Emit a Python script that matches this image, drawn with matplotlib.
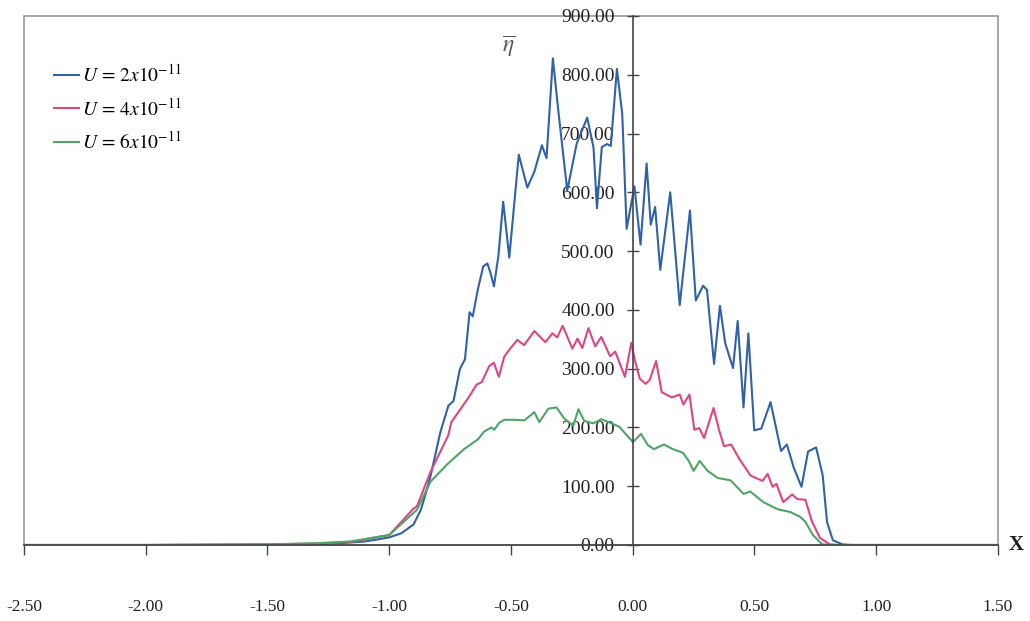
import numpy as np
import matplotlib
matplotlib.use("Agg")
import matplotlib.pyplot as plt
from matplotlib.patches import Rectangle

plt.rcParams['font.family'] = ['Liberation Serif', 'DejaVu Serif']
plt.rcParams['mathtext.fontset'] = 'stix'

# U = 2x10^-11
blue_x = [-2.50, -2.00, -1.50, -1.30, -1.20, -1.10, -1.04, -1.00, -0.95, -0.90, -0.87, -0.85,
          -0.83, -0.79, -0.757, -0.736, -0.710, -0.689, -0.670, -0.657, -0.636, -0.614, -0.597,
          -0.585, -0.570, -0.552, -0.532, -0.507, -0.468, -0.433, -0.404, -0.373, -0.354, -0.328,
          -0.306, -0.269, -0.230, -0.187, -0.161, -0.147, -0.127, -0.106, -0.090, -0.065, -0.043,
          -0.025, 0.007, 0.032, 0.057, 0.074, 0.092, 0.113, 0.154, 0.193, 0.235, 0.259, 0.289,
          0.305, 0.334, 0.358, 0.380, 0.412, 0.431, 0.455, 0.475, 0.499, 0.528, 0.566, 0.609,
          0.633, 0.661, 0.693, 0.720, 0.753, 0.780, 0.798, 0.822, 0.862, 0.90, 1.50]
blue_y = [0, 0, 0.5, 1.5, 3, 6, 10, 13, 20, 35, 60, 88,
          118, 192, 237, 245, 299, 316, 396, 389, 435, 474, 479,
          464, 440, 491, 584, 489, 664, 608, 635, 680, 658, 828,
          740, 603, 683, 727, 676, 573, 677, 682, 679, 810, 733,
          538, 610, 511, 649, 545, 575, 468, 600, 408, 569, 416, 441,
          434, 308, 407, 343, 301, 381, 234, 360, 195, 198, 243, 160,
          171, 132, 99, 159, 166, 119, 39, 8, 1, 0, 0]

# U = 4x10^-11
pink_x = [-2.50, -2.00, -1.50, -1.30, -1.16, -1.00, -0.90, -0.886, -0.83, -0.758, -0.745, -0.716,
          -0.674, -0.641, -0.620, -0.590, -0.570, -0.550, -0.528, -0.507, -0.474, -0.446, -0.404,
          -0.359, -0.330, -0.310, -0.288, -0.248, -0.227, -0.207, -0.182, -0.154, -0.129, -0.093,
          -0.072, -0.032, -0.006, 0.010, 0.029, 0.053, 0.070, 0.096, 0.119, 0.160, 0.193, 0.208,
          0.233, 0.253, 0.273, 0.293, 0.332, 0.355, 0.375, 0.404, 0.44, 0.484, 0.533, 0.554,
          0.574, 0.590, 0.618, 0.655, 0.676, 0.709, 0.736, 0.769, 0.809, 0.85, 1.50]
pink_y = [0, 0, 1, 2.5, 5, 17, 62, 66, 125, 186, 209, 226,
          251, 273, 277, 304, 310, 286, 320, 332, 349, 340, 364,
          345, 360, 353, 373, 334, 351, 335, 369, 338, 354, 321,
          329, 286, 344, 312, 283, 274, 281, 313, 260, 251, 256, 239,
          256, 196, 199, 182, 233, 195, 168, 171, 145, 118, 109, 121,
          99, 104, 73, 86, 78, 77, 40, 12, 1, 0, 0]

# U = 6x10^-11
green_x = [-2.50, -2.00, -1.50, -1.30, -1.16, -1.00, -0.886, -0.83, -0.76, -0.693, -0.635, -0.610,
           -0.581, -0.569, -0.548, -0.527, -0.486, -0.445, -0.404, -0.384, -0.346, -0.313, -0.281,
           -0.244, -0.223, -0.199, -0.162, -0.129, -0.088, -0.055, -0.027, 0.001, 0.034, 0.062,
           0.087, 0.128, 0.165, 0.206, 0.230, 0.250, 0.275, 0.308, 0.349, 0.402, 0.455, 0.483,
           0.536, 0.594, 0.647, 0.687, 0.708, 0.740, 0.768, 0.780, 0.82, 1.50]
green_y = [0, 0, 1, 3, 6, 17, 60, 108, 138, 163, 180, 193,
           200, 196, 208, 213, 213, 212, 226, 209, 232, 234, 215,
           203, 231, 211, 207, 214, 207, 201, 188, 175, 189, 170,
           163, 171, 163, 157, 143, 126, 143, 126, 114, 110, 87, 91,
           73, 61, 56, 48, 40, 17, 5, 1, 0, 0]

labels = [r'$U\,=\,2x10^{-11}$', r'$U\,=\,4x10^{-11}$', r'$U\,=\,6x10^{-11}$']
colors = ['#2f62a8', '#dc4684', '#4ea565']
x_ticks = [-2.5, -2.0, -1.5, -1.0, -0.5, 0.0, 0.5, 1.0, 1.5]
y_ticks = [0, 100, 200, 300, 400, 500, 600, 700, 800, 900]

fig = plt.figure(figsize=(10.3, 6.21), dpi=100)
ax = fig.add_axes([0.0233, 0.1224, 0.9456, 0.8519])

for xs, ys, lab, c in zip([blue_x, pink_x, green_x], [blue_y, pink_y, green_y], labels, colors):
    ax.plot(xs, ys, color=c, lw=1.5, label=lab, solid_joinstyle='round')

ax.set_xlim(-2.5, 1.5)
ax.set_ylim(0, 900)

# frame round the plot area
ax.add_patch(Rectangle((0, 0), 1, 1, transform=ax.transAxes, fill=False,
                       edgecolor='#9a9a9a', lw=1.2, clip_on=False, zorder=0))
ax.spines['top'].set_visible(False)
ax.spines['right'].set_visible(False)
ax.spines['left'].set_position(('data', 0))
ax.spines['left'].set_color('#444444')
ax.spines['bottom'].set_color('#444444')
ax.spines['left'].set_linewidth(1.2)
ax.spines['bottom'].set_linewidth(1.2)

ax.set_yticks(y_ticks)
ax.set_yticklabels([f'{v:.2f}' for v in y_ticks])
ax.set_xticks(x_ticks)
ax.set_xticklabels([f'{v:.2f}' if v != 0 else '0.00' for v in x_ticks])
ax.tick_params(axis='y', direction='inout', length=8, width=1, pad=9,
               labelsize=14, colors='#444444', labelcolor='#222222')
ax.tick_params(axis='x', direction='out', length=7, width=1, pad=32,
               labelsize=12.5, colors='#444444', labelcolor='#222222')

ax.text(-0.51, 848, r'$\overline{\eta}$', fontsize=17, color='#555555', ha='center', va='center')
fig.text(0.987, 0.1224, 'X', fontsize=15, fontweight='bold', ha='center', va='center', color='#222222')

ax.legend(loc='upper left', bbox_to_anchor=(0.031, 0.91), frameon=False, fontsize=14,
          handlelength=1.3, handletextpad=0.15, labelspacing=0.6, borderpad=0, borderaxespad=0)

fig.savefig('out.png', dpi=100)
